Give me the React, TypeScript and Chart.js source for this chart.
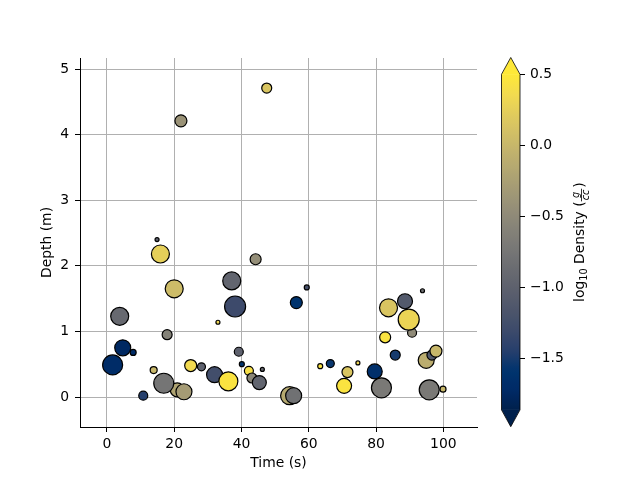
import React, { useEffect, useRef } from "react";
import { Chart, registerables } from "chart.js";

Chart.register(...registerables);

// ---- data ----
const timeS = [
  47.5, 22.0, 14.9, 15.9, 44.2, 20.0, 37.1, 38.1, 3.8, 33.0, 17.9, 4.7, 7.8, 1.7,
  13.9, 24.9, 28.1, 32.0, 36.1, 39.2, 40.1, 42.2, 46.2, 43.1, 45.3, 20.9, 16.9,
  22.9, 10.8, 59.4, 56.3, 93.8, 88.6, 83.7, 90.7, 89.7, 82.7, 85.7, 94.9, 96.6,
  97.8, 63.4, 66.4, 74.6, 71.5, 79.6, 70.5, 81.6, 95.8, 99.9, 54.3, 55.5,
];
const depthM = [
  4.71, 4.21, 2.40, 2.18, 2.10, 1.65, 1.77, 1.38, 1.23, 1.14, 0.95, 0.75, 0.68,
  0.49, 0.41, 0.48, 0.46, 0.34, 0.24, 0.69, 0.50, 0.40, 0.42, 0.29, 0.22, 0.11,
  0.21, 0.08, 0.02, 1.67, 1.44, 1.62, 1.46, 1.36, 0.98, 1.18, 0.91, 0.64, 0.56,
  0.64, 0.70, 0.47, 0.51, 0.52, 0.38, 0.39, 0.17, 0.14, 0.11, 0.12, 0.02, 0.02,
];
const log10Density = [
  0.15, -0.4, -1.0, 0.25, -0.45, 0.05, -0.95, -1.3, -0.9, 0.3, -0.6, -1.75, -1.7,
  -1.7, 0.0, 0.35, -1.0, -1.25, 0.45, -1.0, -1.6, 0.4, -0.9, -0.55, -0.95, -0.2,
  -0.75, -0.3, -1.45, -1.2, -1.6, -0.8, -1.1, 0.15, -0.5, 0.3, 0.45, -1.5, -0.1,
  -1.1, 0.0, 0.45, -1.55, 0.3, 0.15, -1.65, 0.45, -0.7, -0.7, 0.0, -0.15, -0.8,
];
// marker radius (px)
const markerSize = [
  5, 6, 2, 9, 5.5, 9, 9, 10.5, 9, 2, 5, 8, 3, 10, 3.5, 6, 4, 8, 9.5, 4.5, 2.5,
  4.5, 2, 5, 7, 7, 10, 8, 4.5, 2.5, 6, 2, 7.5, 9, 4.5, 10.5, 5.5, 5, 8, 5, 6,
  2.5, 4, 2, 5.5, 7.5, 7.5, 10, 10, 3, 9, 8,
];

const xTicks = [0, 20, 40, 60, 80, 100];
const yTicks = [0, 1, 2, 3, 4, 5];
const cbTicks = [-1.5, -1.0, -0.5, 0.0, 0.5];
const cbMin = -1.861;
const cbMax = 0.5;

const xLabel = "Time (s)";
const yLabel = "Depth (m)";

// ---- cividis colormap ----
const CIVIDIS: [number, number, number][] = [
  [0, 32, 76], [0, 42, 102], [0, 52, 110], [39, 63, 108], [60, 74, 107],
  [76, 85, 107], [91, 95, 109], [104, 106, 112], [117, 117, 117],
  [131, 129, 120], [146, 140, 120], [161, 152, 118], [176, 165, 114],
  [192, 177, 109], [209, 191, 102], [225, 204, 92], [243, 219, 79],
  [254, 232, 56],
];
function cividis(t: number): string {
  const tt = Math.max(0, Math.min(1, t));
  const n = CIVIDIS.length - 1;
  const f = tt * n;
  const i = Math.min(n - 1, Math.floor(f));
  const u = f - i;
  const a = CIVIDIS[i];
  const b = CIVIDIS[i + 1];
  const c = a.map((v, k) => Math.round(v + (b[k] - v) * u));
  return `rgb(${c[0]},${c[1]},${c[2]})`;
}
const norm = (v: number) => (v - cbMin) / (cbMax - cbMin);

const FONT = { family: "'DejaVu Sans', sans-serif", size: 13.9 };

const colorbarPlugin = {
  id: "colorbarDraw",
  afterDraw(chart: any) {
    const ctx: CanvasRenderingContext2D = chart.ctx;
    const ys = chart.scales.y;
    const { left, right, top, bottom } = chart.chartArea;
    const yTop = ys.getPixelForValue(cbMax);
    const yBot = ys.getPixelForValue(cbMin);
    const cx = (left + right) / 2;
    ctx.save();
    const grad = ctx.createLinearGradient(0, yBot, 0, yTop);
    for (let i = 0; i <= 64; i++) grad.addColorStop(i / 64, cividis(i / 64));
    ctx.fillStyle = grad;
    ctx.fillRect(left, yTop, right - left, yBot - yTop);
    ctx.fillStyle = cividis(1);
    ctx.beginPath();
    ctx.moveTo(left, yTop + 0.5);
    ctx.lineTo(cx, top);
    ctx.lineTo(right, yTop + 0.5);
    ctx.closePath();
    ctx.fill();
    ctx.fillStyle = cividis(0);
    ctx.beginPath();
    ctx.moveTo(left, yBot - 0.5);
    ctx.lineTo(cx, bottom);
    ctx.lineTo(right, yBot - 0.5);
    ctx.closePath();
    ctx.fill();
    ctx.strokeStyle = "#000";
    ctx.lineWidth = 0.8;
    ctx.beginPath();
    ctx.moveTo(left, yTop);
    ctx.lineTo(cx, top);
    ctx.lineTo(right, yTop);
    ctx.lineTo(right, yBot);
    ctx.lineTo(cx, bottom);
    ctx.lineTo(left, yBot);
    ctx.closePath();
    ctx.stroke();

    // rotated label: log10 Density (g/cc)
    const lx = right + 60;
    const ly = (top + bottom) / 2;
    ctx.translate(lx, ly);
    ctx.rotate(-Math.PI / 2);
    ctx.fillStyle = "#000";
    ctx.textAlign = "left";
    ctx.textBaseline = "alphabetic";
    const big = "13.9px 'DejaVu Sans', sans-serif";
    const small = "9.7px 'DejaVu Sans', sans-serif";
    const smallIt = "italic 9.7px 'DejaVu Sans', sans-serif";
    ctx.font = big;
    const wLog = ctx.measureText("log").width;
    const wMid = ctx.measureText(" Density (").width;
    const wClose = ctx.measureText(")").width;
    ctx.font = small;
    const w10 = ctx.measureText("10").width;
    ctx.font = smallIt;
    const wG = ctx.measureText("g").width;
    const wCC = ctx.measureText("cc").width;
    const wFrac = Math.max(wG, wCC) + 2;
    const total = wLog + w10 + wMid + wFrac + 1 + wClose;
    let x = -total / 2;
    const b = 4.4;
    ctx.font = big;
    ctx.fillText("log", x, b);
    x += wLog;
    ctx.font = small;
    ctx.fillText("10", x, b + 3);
    x += w10;
    ctx.font = big;
    ctx.fillText(" Density (", x, b);
    x += wMid;
    const barY = b - 3;
    ctx.font = smallIt;
    ctx.fillText("g", x + (wFrac - wG) / 2, barY - 2);
    ctx.fillText("cc", x + (wFrac - wCC) / 2, barY + 8);
    ctx.fillRect(x, barY - 0.4, wFrac, 0.8);
    x += wFrac + 1;
    ctx.font = big;
    ctx.fillText(")", x, b);
    ctx.restore();
  },
};

export default function App() {
  const mainRef = useRef<HTMLCanvasElement | null>(null);
  const cbRef = useRef<HTMLCanvasElement | null>(null);

  useEffect(() => {
    if (!mainRef.current || !cbRef.current) return;
    const points = timeS.map((x, i) => ({ x, y: depthM[i], r: markerSize[i] }));
    const main = new Chart(mainRef.current, {
      type: "bubble",
      data: {
        datasets: [
          {
            data: points,
            backgroundColor: log10Density.map((v) => cividis(norm(v))),
            borderColor: "#000",
            borderWidth: 1.2,
          },
        ],
      },
      options: {
        responsive: false,
        animation: false,
        events: [],
        layout: { padding: { left: 0, right: 163, top: 58, bottom: 0 } },
        plugins: { legend: { display: false }, tooltip: { enabled: false } },
        scales: {
          x: {
            type: "linear",
            min: -8,
            max: 110,
            afterBuildTicks: (a: any) => {
              a.ticks = xTicks.map((v) => ({ value: v }));
            },
            afterFit: (s: any) => {
              s.height = 53;
            },
            grid: { color: "#b0b0b0", lineWidth: 1, tickColor: "#000", tickLength: 5, tickWidth: 1 },
            border: { color: "#000", width: 1 },
            ticks: { color: "#000", font: FONT, padding: 4, maxRotation: 0, autoSkip: false },
            title: { display: true, text: xLabel, color: "#000", font: FONT, padding: { top: 0, bottom: 8.6 } },
          },
          y: {
            type: "linear",
            min: -0.457,
            max: 5.168,
            afterBuildTicks: (a: any) => {
              a.ticks = yTicks.map((v) => ({ value: v }));
            },
            afterFit: (s: any) => {
              s.width = 80;
            },
            grid: { color: "#b0b0b0", lineWidth: 1, tickColor: "#000", tickLength: 5, tickWidth: 1 },
            border: { color: "#000", width: 1 },
            ticks: { color: "#000", font: FONT, padding: 6, autoSkip: false },
            title: { display: true, text: yLabel, color: "#000", font: FONT, padding: { top: 39, bottom: 0 } },
          },
        },
      },
    });

    const ext = 0.05 * (cbMax - cbMin);
    const cb = new Chart(cbRef.current, {
      type: "scatter",
      data: { datasets: [] },
      options: {
        responsive: false,
        animation: false,
        events: [],
        layout: { padding: { left: 21.5, right: 20, top: 57.5, bottom: 53.3 } },
        plugins: { legend: { display: false }, tooltip: { enabled: false } },
        scales: {
          x: { display: false, min: 0, max: 1 },
          y: {
            type: "linear",
            position: "right",
            min: cbMin - ext,
            max: cbMax + ext,
            afterBuildTicks: (a: any) => {
              a.ticks = cbTicks.map((v) => ({ value: v }));
            },
            afterFit: (s: any) => {
              s.width = 100;
            },
            grid: { drawOnChartArea: false, tickColor: "#000", tickLength: 5, tickWidth: 1 },
            border: { display: false },
            ticks: {
              color: "#000",
              font: FONT,
              padding: 5,
              autoSkip: false,
              callback: (v: any) => Number(v).toFixed(1).replace("-", "\u2212"),
            },
          },
        },
      },
      plugins: [colorbarPlugin],
    });

    return () => {
      main.destroy();
      cb.destroy();
    };
  }, []);

  return (
    <div style={{ position: "fixed", left: 0, top: 0, width: 640, height: 480, background: "#fff", overflow: "hidden" }}>
      <canvas ref={mainRef} width={640} height={480} style={{ position: "absolute", left: 0, top: 0, width: 640, height: 480 }} />
      <canvas ref={cbRef} width={160} height={480} style={{ position: "absolute", left: 480, top: 0, width: 160, height: 480 }} />
    </div>
  );
}
